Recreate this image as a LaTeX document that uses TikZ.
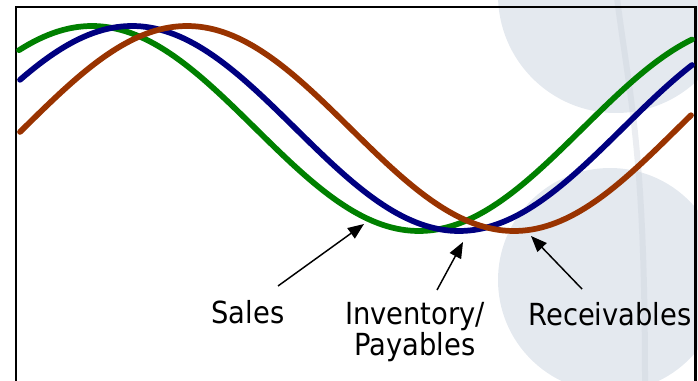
\documentclass[tikz,border=0pt]{standalone}
\usepackage{fontspec}
\setmainfont{DejaVu Sans Condensed}
\usetikzlibrary{arrows.meta}
\definecolor{cgreen}{RGB}{0,128,0}
\definecolor{cblue}{RGB}{0,0,128}
\definecolor{cbrown}{RGB}{153,51,0}
\definecolor{bgcirc}{RGB}{228,233,239}
\definecolor{stripecol}{RGB}{205,211,220}
\begin{document}
\begin{tikzpicture}[x=0.75pt,y=-0.75pt,
  curve/.style={line width=4.3pt, line cap=round, line join=round},
  pointer/.style={line width=1.1pt, -{Triangle[length=12pt,width=9.5pt]}},
  lbl/.style={inner sep=0pt, font=\fontsize{22.8}{21.8}\selectfont, align=center},
  frameline/.style={line width=1.6pt, black}]
\useasboundingbox (0,0) rectangle (698,381);
\begin{scope}
  \clip (0,0) rectangle (698,381);
  \fill[bgcirc] (616,-5) circle (118);
  \fill[bgcirc] (610,280) circle (112);
  \draw[stripecol, line width=4.5pt, opacity=0.4] (617,-2) .. controls (630,100) and (645,150) .. (645,383);
\end{scope}
\draw[frameline] (16,382) -- (16,7) -- (695.5,7) -- (695.5,382);
% curves
\draw[curve, cgreen] plot[domain=19:692, samples=140] (\x, {128.5-102.5*cos(0.550459*(\x-92))});
\draw[curve, cblue]  plot[domain=20:692, samples=140] (\x, {128.5-102.5*cos(0.550459*(\x-132))});
\draw[curve, cbrown] plot[domain=20:691, samples=140] (\x, {128.5-102.5*cos(0.550459*(\x-187))});
% labels
\node[lbl, anchor=base] (sales) at (248,323) {Sales};
\node[lbl, anchor=base] (inv) at (415,355) {Inventory/\\Payables};
\node[lbl, anchor=base] (rec) at (610,325) {Receivables};
% arrows
\coordinate (salesTail) at (278,286);
\coordinate (salesTip) at (364,224);
\coordinate (invTail) at (437,290);
\coordinate (invTip) at (463,242);
\coordinate (recTail) at (582,289);
\coordinate (recTip) at (531,236);
\draw[pointer] (salesTail) -- (salesTip);
\draw[pointer] (invTail) -- (invTip);
\draw[pointer] (recTail) -- (recTip);
\end{tikzpicture}
\end{document}
